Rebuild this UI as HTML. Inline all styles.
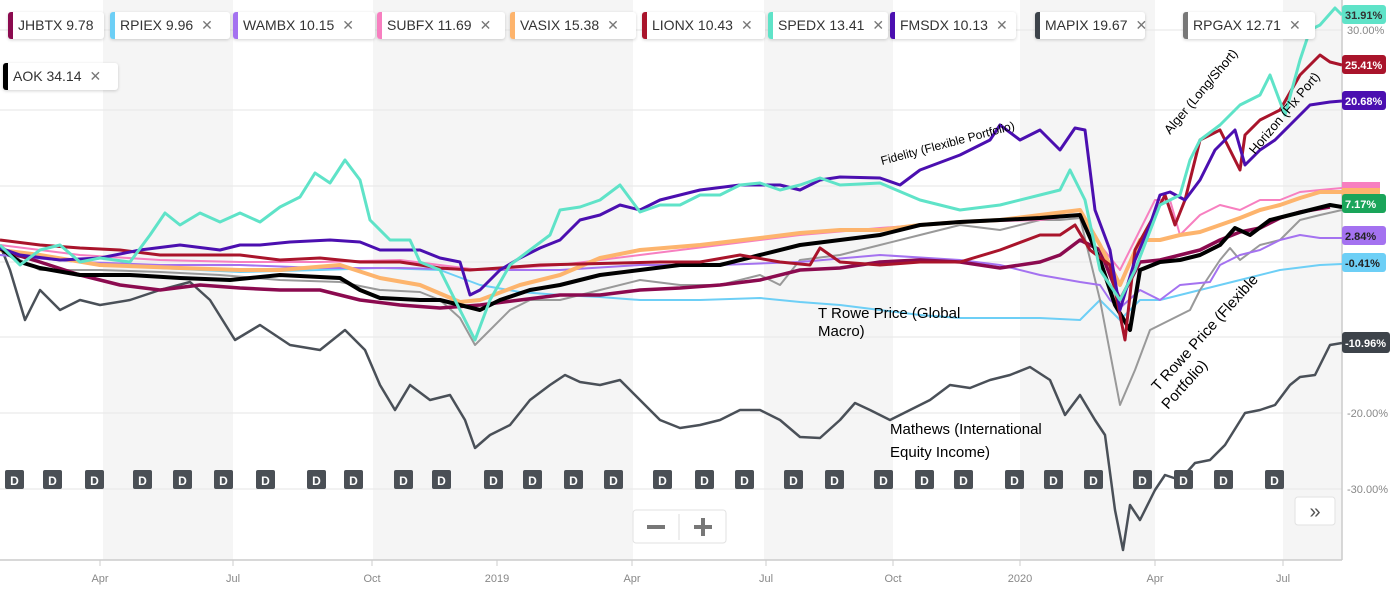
<!DOCTYPE html>
<html><head><meta charset="utf-8"><style>
body{margin:0;width:1397px;height:600px;overflow:hidden;background:#fff;font-family:"Liberation Sans",sans-serif}
.chip{position:absolute;height:27px;background:#fff;box-shadow:0 1px 3px rgba(0,0,0,.18);border-radius:3px;font-size:14px;color:#333;line-height:27px;padding-left:10px;white-space:nowrap}
.chip:before{content:"";position:absolute;left:0;top:0;bottom:0;width:5px;background:var(--c);border-radius:3px 0 0 3px}
.chip span{color:#777;margin-left:8px}
</style></head><body>
<svg width="1397" height="600" style="position:absolute;left:0;top:0" font-family="Liberation Sans, sans-serif">
<g fill="#f5f5f5">
<rect x="103" y="0" width="130" height="560"/><rect x="373" y="0" width="260" height="560"/>
<rect x="764" y="0" width="129" height="560"/><rect x="1020" y="0" width="135" height="560"/><rect x="1283" y="0" width="59" height="560"/>
</g>
<g stroke="#e6e6e6" stroke-width="1">
<line x1="0" x2="1342" y1="30" y2="30"/><line x1="0" x2="1342" y1="110" y2="110"/><line x1="0" x2="1342" y1="186" y2="186"/>
<line x1="0" x2="1342" y1="262" y2="262"/><line x1="0" x2="1342" y1="337" y2="337"/><line x1="0" x2="1342" y1="413" y2="413"/><line x1="0" x2="1342" y1="489" y2="489"/>
</g>
<line x1="0" x2="1342" y1="560" y2="560" stroke="#ccc" stroke-width="1.5"/>
<line x1="1342" x2="1342" y1="0" y2="560" stroke="#ccc" stroke-width="1.5"/>
<g font-size="11" fill="#888" text-anchor="middle">
<text x="100" y="582">Apr</text><text x="233" y="582">Jul</text><text x="372" y="582">Oct</text><text x="497" y="582">2019</text>
<text x="632" y="582">Apr</text><text x="766" y="582">Jul</text><text x="893" y="582">Oct</text><text x="1020" y="582">2020</text>
<text x="1155" y="582">Apr</text><text x="1283" y="582">Jul</text>
</g>
<g stroke="#ccc"><line x1="100" x2="100" y1="560" y2="566"/><line x1="233" x2="233" y1="560" y2="566"/><line x1="372" x2="372" y1="560" y2="566"/><line x1="497" x2="497" y1="560" y2="566"/><line x1="632" x2="632" y1="560" y2="566"/><line x1="766" x2="766" y1="560" y2="566"/><line x1="893" x2="893" y1="560" y2="566"/><line x1="1020" x2="1020" y1="560" y2="566"/><line x1="1155" x2="1155" y1="560" y2="566"/><line x1="1283" x2="1283" y1="560" y2="566"/></g>
<g font-size="11" fill="#888"><text x="1347" y="34">30.00%</text><text x="1347" y="417">-20.00%</text><text x="1347" y="493">-30.00%</text></g>
<g fill="none" stroke-linejoin="round">
<polyline stroke="#4a5058" stroke-width="2.5" points="0,245 10,270 25,320 40,290 60,310 80,300 100,305 130,300 160,290 190,282 210,300 235,340 260,325 290,345 320,350 345,330 365,350 380,385 395,410 410,385 430,400 450,395 465,420 475,448 490,435 510,425 530,400 550,385 565,375 580,382 600,385 620,380 640,400 660,420 680,428 700,425 720,420 740,410 760,410 780,420 800,437 820,438 840,420 855,403 870,410 890,420 910,410 930,400 950,385 970,388 990,380 1010,375 1030,367 1050,380 1065,415 1080,395 1095,420 1105,435 1115,510 1123,550 1130,505 1140,520 1155,490 1165,475 1180,480 1195,463 1210,460 1225,445 1245,413 1260,410 1275,405 1290,385 1300,377 1315,375 1330,345 1342,343"/>
<polyline stroke="#6dcff6" stroke-width="2" points="0,255 80,262 160,268 240,272 320,270 380,268 440,270 480,285 520,292 560,295 600,297 640,300 700,300 760,298 800,302 840,305 880,310 920,315 960,318 1000,318 1040,318 1080,320 1100,300 1120,320 1140,300 1160,300 1200,290 1240,280 1280,270 1320,265 1342,264"/>
<polyline stroke="#999" stroke-width="2" points="0,245 20,260 40,270 100,270 160,272 220,275 280,280 340,282 380,290 420,292 440,300 460,318 475,345 490,330 510,310 530,300 560,300 600,290 640,280 680,285 720,285 760,275 780,285 800,260 840,255 880,245 920,235 960,225 1000,230 1040,220 1060,220 1080,218 1100,300 1120,405 1135,370 1150,330 1170,320 1190,310 1200,290 1220,260 1230,248 1240,260 1260,245 1280,240 1300,220 1320,215 1342,210"/>
<polyline stroke="#a472f0" stroke-width="2" points="0,255 80,262 160,265 240,265 320,268 400,268 480,270 560,270 640,265 720,265 800,262 880,255 960,260 1000,265 1040,275 1080,282 1100,285 1110,300 1120,308 1140,290 1160,300 1180,285 1210,282 1220,265 1240,255 1260,250 1280,240 1300,235 1320,238 1342,238"/>
<polyline stroke="#f77fc0" stroke-width="2" points="0,245 80,255 160,260 240,262 320,262 400,260 480,270 560,265 640,255 720,245 800,235 880,228 960,222 1040,220 1080,215 1100,245 1120,270 1140,230 1155,200 1170,200 1180,235 1200,215 1220,205 1240,210 1260,200 1280,200 1300,192 1320,190 1342,188"/>
<polyline stroke="#8b0a4f" stroke-width="3.5" points="0,250 40,262 80,275 120,285 160,290 200,285 240,288 280,290 320,290 360,300 400,305 440,308 480,305 520,300 560,295 600,295 640,290 680,288 720,285 760,280 800,270 840,268 880,262 920,260 960,262 1000,268 1040,262 1060,255 1080,240 1100,250 1120,300 1140,262 1160,260 1180,255 1200,250 1220,240 1240,232 1260,228 1280,218 1300,212 1330,207"/>
<polyline stroke="#fdb46d" stroke-width="4" points="0,250 40,255 100,265 180,268 240,270 280,270 340,265 380,278 420,285 460,302 480,300 520,285 560,275 600,258 640,250 700,245 760,238 800,233 840,230 880,230 920,225 960,222 1000,220 1040,215 1080,210 1100,245 1120,285 1140,240 1160,240 1180,235 1200,232 1220,225 1240,218 1260,210 1280,205 1300,198 1320,192 1342,192"/>
<polyline stroke="#000" stroke-width="4" points="0,248 20,262 40,268 80,275 130,275 180,278 230,280 280,275 340,278 360,290 380,298 420,300 440,300 460,305 480,310 500,300 530,290 560,285 600,275 640,270 680,265 720,265 760,255 800,245 840,240 880,235 920,225 960,222 1000,220 1040,218 1080,215 1100,260 1115,305 1130,330 1140,270 1160,262 1180,260 1200,255 1220,245 1235,228 1250,235 1270,220 1290,215 1310,210 1330,205 1342,207"/>
<polyline stroke="#a9142b" stroke-width="3" points="0,240 40,245 80,248 120,250 160,255 240,255 280,260 320,258 360,262 400,262 440,268 470,270 500,268 540,265 660,262 700,262 740,255 780,262 810,265 820,248 840,262 880,265 920,262 960,262 1000,250 1040,235 1060,235 1075,225 1090,250 1110,265 1125,340 1135,250 1160,205 1165,195 1175,225 1185,200 1200,140 1220,130 1240,170 1245,135 1260,120 1280,110 1300,75 1320,55 1330,62 1342,65"/>
<polyline stroke="#4b0fb0" stroke-width="3" points="0,248 20,255 60,260 100,258 140,250 180,245 220,250 240,245 260,245 290,242 330,240 360,242 380,250 420,250 440,258 460,262 470,295 480,290 500,270 520,258 540,248 560,240 580,220 600,215 620,205 640,210 660,200 700,190 740,185 780,185 800,190 820,180 840,177 880,178 900,185 920,170 960,155 990,140 1000,125 1020,140 1040,130 1060,150 1075,128 1085,130 1095,210 1110,250 1120,310 1135,260 1150,225 1160,195 1170,192 1185,200 1200,180 1215,150 1235,130 1245,165 1260,150 1275,140 1290,125 1310,105 1330,102 1342,101"/>
<polyline stroke="#5fe3c8" stroke-width="3" points="0,245 20,265 40,250 60,245 80,262 100,258 130,262 150,235 165,213 180,225 200,213 220,222 240,213 260,222 280,207 300,197 315,173 330,183 345,160 360,180 370,220 390,240 410,240 420,262 440,270 460,310 475,340 490,300 510,265 530,250 550,235 560,210 580,207 600,200 620,185 640,212 660,205 680,205 700,195 720,195 740,185 760,183 780,190 800,185 820,178 840,185 880,183 920,200 960,210 1000,205 1040,195 1060,190 1070,170 1085,200 1100,270 1120,300 1135,270 1160,205 1180,195 1190,160 1200,140 1220,125 1240,105 1260,95 1270,75 1285,115 1300,60 1310,30 1320,25 1335,8 1342,15"/>
</g>
<g font-size="11" fill="#fff" font-weight="bold">
<rect x="1342" y="5" width="44" height="19" rx="3" fill="#5fe3c8"/><text x="1345" y="19" fill="#333">31.91%</text>
<rect x="1342" y="55" width="44" height="19" rx="3" fill="#a9142b"/><text x="1345" y="69">25.41%</text>
<rect x="1342" y="91" width="44" height="19" rx="3" fill="#4b0fb0"/><text x="1345" y="105">20.68%</text>
<rect x="1342" y="182" width="38" height="12" fill="#f77fc0"/><rect x="1342" y="188" width="38" height="10" fill="#fdb46d"/>
<rect x="1342" y="194" width="44" height="19" rx="3" fill="#1aa55a"/><text x="1345" y="208">7.17%</text>
<rect x="1342" y="226" width="44" height="19" rx="3" fill="#a472f0"/><text x="1345" y="240" fill="#222">2.84%</text>
<rect x="1342" y="253" width="44" height="19" rx="3" fill="#6dcff6"/><text x="1345" y="267" fill="#222">-0.41%</text>
<rect x="1342" y="332" width="48" height="21" rx="3" fill="#3d434a"/><text x="1345" y="347">-10.96%</text>
</g>
<g>
<g fill="#4a4f55">
<rect x="5" y="470" width="19" height="19" rx="2"/><rect x="43" y="470" width="19" height="19" rx="2"/><rect x="85" y="470" width="19" height="19" rx="2"/><rect x="133" y="470" width="19" height="19" rx="2"/><rect x="173" y="470" width="19" height="19" rx="2"/><rect x="214" y="470" width="19" height="19" rx="2"/><rect x="256" y="470" width="19" height="19" rx="2"/><rect x="307" y="470" width="19" height="19" rx="2"/><rect x="344" y="470" width="19" height="19" rx="2"/><rect x="394" y="470" width="19" height="19" rx="2"/><rect x="432" y="470" width="19" height="19" rx="2"/><rect x="484" y="470" width="19" height="19" rx="2"/><rect x="523" y="470" width="19" height="19" rx="2"/><rect x="564" y="470" width="19" height="19" rx="2"/><rect x="604" y="470" width="19" height="19" rx="2"/><rect x="653" y="470" width="19" height="19" rx="2"/><rect x="695" y="470" width="19" height="19" rx="2"/><rect x="735" y="470" width="19" height="19" rx="2"/><rect x="784" y="470" width="19" height="19" rx="2"/><rect x="825" y="470" width="19" height="19" rx="2"/><rect x="874" y="470" width="19" height="19" rx="2"/><rect x="915" y="470" width="19" height="19" rx="2"/><rect x="954" y="470" width="19" height="19" rx="2"/><rect x="1005" y="470" width="19" height="19" rx="2"/><rect x="1044" y="470" width="19" height="19" rx="2"/><rect x="1084" y="470" width="19" height="19" rx="2"/><rect x="1133" y="470" width="19" height="19" rx="2"/><rect x="1174" y="470" width="19" height="19" rx="2"/><rect x="1214" y="470" width="19" height="19" rx="2"/><rect x="1265" y="470" width="19" height="19" rx="2"/>
</g>
<g fill="#fff" font-size="12" font-weight="bold" text-anchor="middle">
<text x="14.5" y="485">D</text><text x="52.5" y="485">D</text><text x="94.5" y="485">D</text><text x="142.5" y="485">D</text><text x="182.5" y="485">D</text><text x="223.5" y="485">D</text><text x="265.5" y="485">D</text><text x="316.5" y="485">D</text><text x="353.5" y="485">D</text><text x="403.5" y="485">D</text><text x="441.5" y="485">D</text><text x="493.5" y="485">D</text><text x="532.5" y="485">D</text><text x="573.5" y="485">D</text><text x="613.5" y="485">D</text><text x="662.5" y="485">D</text><text x="704.5" y="485">D</text><text x="744.5" y="485">D</text><text x="793.5" y="485">D</text><text x="834.5" y="485">D</text><text x="883.5" y="485">D</text><text x="924.5" y="485">D</text><text x="963.5" y="485">D</text><text x="1014.5" y="485">D</text><text x="1053.5" y="485">D</text><text x="1093.5" y="485">D</text><text x="1142.5" y="485">D</text><text x="1183.5" y="485">D</text><text x="1223.5" y="485">D</text><text x="1274.5" y="485">D</text>
</g>
</g>
<rect x="633" y="510" width="93" height="33" rx="3" fill="#fff" stroke="#e2e2e2"/>
<line x1="679" x2="679" y1="514" y2="540" stroke="#ddd"/>
<rect x="647" y="525" width="18" height="4" fill="#777"/><rect x="694" y="525" width="18" height="4" fill="#777"/><rect x="701" y="518" width="4" height="18" fill="#777"/>
<rect x="1295" y="497" width="40" height="28" rx="3" fill="#fff" stroke="#e2e2e2"/>
<text x="1315" y="518" font-size="20" fill="#555" text-anchor="middle">»</text>
<g font-size="15" fill="#000">
<text x="818" y="318">T Rowe Price (Global</text><text x="818" y="336">Macro)</text>
<text x="890" y="434">Mathews (International</text><text x="890" y="457">Equity Income)</text>
<text transform="translate(882,165) rotate(-15)" font-size="12">Fidelity (Flexible Portfolio)</text>
<text transform="translate(1170,135) rotate(-50)" font-size="13">Alger (Long/Short)</text>
<text transform="translate(1255,155) rotate(-50)" font-size="13">Horizon (Flx Port)</text>
<text transform="translate(1158,392) rotate(-48)">T Rowe Price (Flexible</text>
<text transform="translate(1168,410) rotate(-48)">Portfolio)</text>
</g>
</svg>
<div class="chip" style="--c:#8b0a4f;left:8px;top:12px;width:86px">JHBTX 9.78</div>
<div class="chip" style="--c:#6dcff6;left:110px;top:12px;width:110px">RPIEX 9.96<span>✕</span></div>
<div class="chip" style="--c:#a472f0;left:233px;top:12px;width:132px">WAMBX 10.15<span>✕</span></div>
<div class="chip" style="--c:#f77fc0;left:377px;top:12px;width:118px">SUBFX 11.69<span>✕</span></div>
<div class="chip" style="--c:#fdb46d;left:510px;top:12px;width:116px">VASIX 15.38<span>✕</span></div>
<div class="chip" style="--c:#a9142b;left:642px;top:12px;width:113px">LIONX 10.43<span>✕</span></div>
<div class="chip" style="--c:#5fe3c8;left:768px;top:12px;width:110px">SPEDX 13.41<span>✕</span></div>
<div class="chip" style="--c:#4b0fb0;left:890px;top:12px;width:116px">FMSDX 10.13<span>✕</span></div>
<div class="chip" style="--c:#3d434a;left:1035px;top:12px;width:100px">MAPIX 19.67<span>✕</span></div>
<div class="chip" style="--c:#777;left:1183px;top:12px;width:122px">RPGAX 12.71<span>✕</span></div>
<div class="chip" style="--c:#000;left:3px;top:63px;width:105px">AOK 34.14<span>✕</span></div>
</body></html>
